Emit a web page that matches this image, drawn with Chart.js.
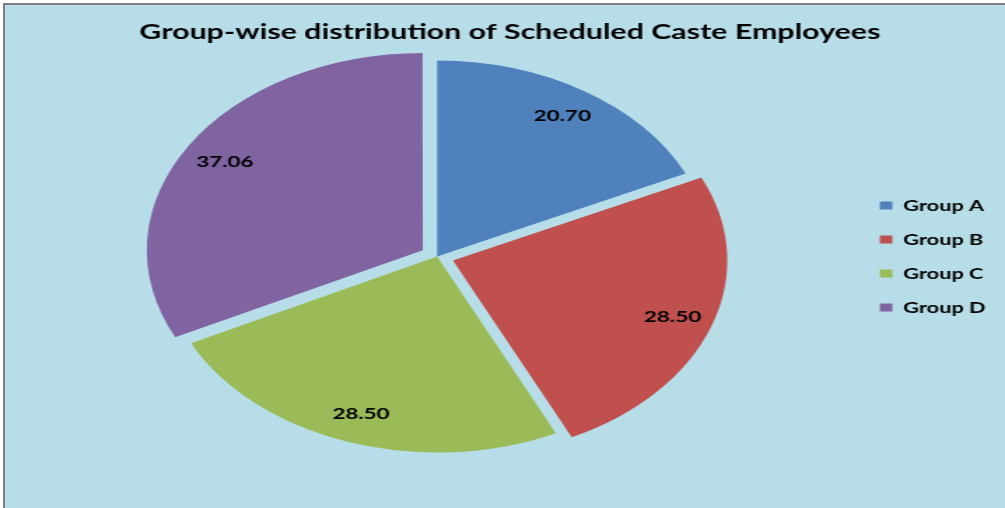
<!DOCTYPE html>
<html>
<head>
<meta charset="utf-8">
<title>Group-wise distribution of Scheduled Caste Employees</title>
<script src="https://cdn.jsdelivr.net/npm/chart.js@4.4.1/dist/chart.umd.min.js"></script>
<style>
  html, body { margin: 0; padding: 0; background: #fff; }
  body { width: 1005px; height: 508px; position: relative; overflow: hidden; }
  .frame {
    position: absolute; left: 3px; top: 3px; width: 1000px; height: 505px;
    background: #b7dee8; border-top: 2px solid #7f7f7f; border-left: 2px solid #7f7f7f;
  }
  #scChart { position: absolute; left: 0; top: 0; }
</style>
</head>
<body>
<div class="frame"></div>
<!-- the source picture is stretched sideways, so the canvas is drawn narrow and widened by css -->
<canvas id="scChart" width="718" height="508" style="width:1005px;height:508px"></canvas>
<script>
        // Data
        const groups = ['Group A', 'Group B', 'Group C', 'Group D'];
        const scShare = [20.70, 28.50, 28.50, 37.06];

        const sliceColors = ['#4f81bd', '#c0504d', '#9bbb59', '#8064a2'];
        const explode = [0, 48, 0, 48];

        const fontFamily = 'Lato, "Open Sans", sans-serif';

        // Value labels inside the slices
        const sliceLabels = {
            id: 'sliceLabels',
            afterDatasetsDraw(chart) {
                const { ctx } = chart;
                const meta = chart.getDatasetMeta(0);
                ctx.save();
                ctx.font = 'bold 16px ' + fontFamily;
                ctx.fillStyle = '#000';
                ctx.textAlign = 'center';
                ctx.textBaseline = 'middle';
                meta.data.forEach((arc, i) => {
                    const { x, y, startAngle, endAngle, outerRadius } =
                        arc.getProps(['x', 'y', 'startAngle', 'endAngle', 'outerRadius'], true);
                    const mid = (startAngle + endAngle) / 2;
                    const dist = (arc.options.offset || 0) / 4 + outerRadius * 0.85;
                    ctx.fillText(scShare[i].toFixed(2), x + Math.cos(mid) * dist, y + Math.sin(mid) * dist);
                });
                ctx.restore();
            }
        };

        const ctxSC = document.getElementById('scChart').getContext('2d');
        new Chart(ctxSC, {
            type: 'pie',
            data: {
                labels: groups,
                datasets: [{
                    data: scShare,
                    backgroundColor: sliceColors,
                    borderWidth: 0,
                    offset: explode,
                    hoverOffset: 0
                }]
            },
            options: {
                responsive: false,
                animation: false,
                radius: 196,
                layout: { padding: { left: 14.5, right: 4, top: 0, bottom: 50 } },
                plugins: {
                    title: {
                        display: true,
                        text: 'Group-wise distribution of Scheduled Caste Employees',
                        color: '#000',
                        font: { family: fontFamily, size: 21.7, weight: 'bold' },
                        padding: { top: 19, bottom: 10 }
                    },
                    legend: {
                        display: true,
                        position: 'right',
                        fullSize: false,
                        labels: {
                            color: '#000',
                            font: { family: fontFamily, size: 15.5, weight: 'bold' },
                            boxWidth: 9,
                            boxHeight: 8,
                            padding: 18.5
                        }
                    },
                    tooltip: { enabled: false }
                }
            },
            plugins: [sliceLabels]
        });
</script>
</body>
</html>
